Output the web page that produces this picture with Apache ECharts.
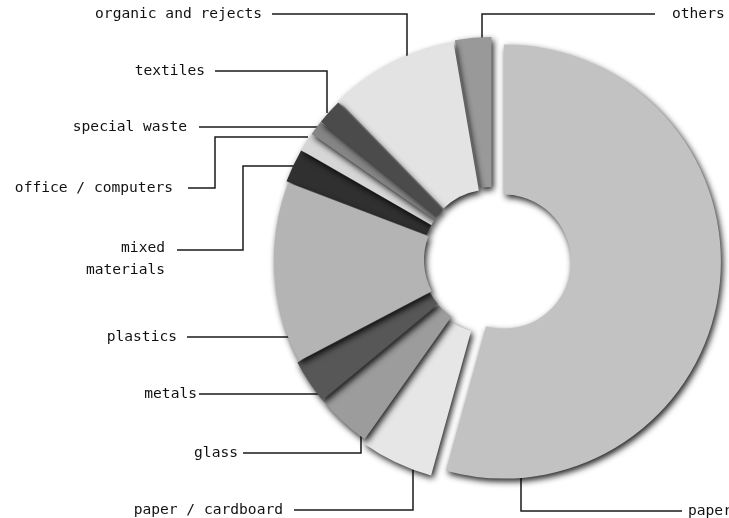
<!DOCTYPE html>
<html>
<head>
<meta charset="utf-8">
<script src="https://cdn.jsdelivr.net/npm/echarts@6/dist/echarts.min.js"></script>
<style>
html,body{margin:0;padding:0;background:#ffffff;}
#chart{width:729px;height:518px;}
</style>
</head>
<body>
<div id="chart"></div>
<script>
// ---- data (clockwise from 12 o'clock) ----
const categories = ['paper', 'paper / cardboard', 'glass', 'metals', 'plastics', 'mixed materials',
  'office / computers', 'special waste', 'textiles', 'organic and rejects', 'others'];
const shares = [54.3, 5.5, 4.2, 3.3, 13.5, 2.5, 1.4, 1.1, 1.9, 9.6, 2.7];

// ---- styles ----
const sliceColors = ['#c2c2c2', '#e6e6e6', '#9c9c9c', '#575757', '#b4b4b4', '#303030',
  '#d6d6d6', '#858585', '#4b4b4b', '#e3e3e3', '#999999'];
const explodeOffsets = [12, 7, 3, 3, 1, 3, 3, 3, 3, 4, 6];

// ---- label placement (layout, px) ----
const labelPlacement = {
  'organic and rejects': {x: 262, y: 14, align: 'right', line: [[272, 14], [407, 14], [407, 83]]},
  'textiles': {x: 205, y: 71, align: 'right', line: [[215, 71], [327, 71], [327, 113]]},
  'special waste': {x: 187, y: 127, align: 'right', line: [[199, 127], [318, 127]]},
  'office / computers': {x: 173, y: 188, align: 'right', line: [[188, 188], [215, 188], [215, 137], [308, 137]]},
  'mixed materials': {x: 165, y: 259, align: 'right', line: [[177, 250], [243, 250], [243, 166], [310, 166]]},
  'plastics': {x: 177, y: 337, align: 'right', line: [[187, 337], [302, 337]]},
  'metals': {x: 197, y: 394, align: 'right', line: [[199, 394], [325, 394], [325, 378]]},
  'glass': {x: 238, y: 453, align: 'right', line: [[243, 453], [361, 453], [361, 407]]},
  'paper / cardboard': {x: 283, y: 510, align: 'right', line: [[294, 510], [413, 510], [413, 437]]},
  'paper': {x: 688, y: 511, align: 'left', line: [[682, 511], [521, 511], [521, 452]]},
  'others': {x: 672, y: 14, align: 'left', line: [[655, 14], [482, 14], [482, 80]]}
};

const CENTER = [492, 260];
const RADIUS = [67, 217];
const FONT = '"DejaVu Sans Mono", "Liberation Mono", monospace';

const chart = echarts.init(document.getElementById('chart'), null, {renderer: 'canvas'});

function sliceSeries(offset) {
  return {
    type: 'pie',
    center: CENTER,
    radius: RADIUS,
    startAngle: 90,
    clockwise: true,
    silent: true,
    animation: false,
    avoidLabelOverlap: false,
    selectedMode: 'multiple',
    selectedOffset: offset,
    emphasis: {disabled: true},
    label: {show: false},
    labelLine: {show: false},
    data: categories.map((name, i) => {
      if (explodeOffsets[i] === offset) {
        const st = {
          color: sliceColors[i],
          shadowBlur: 6,
          shadowColor: 'rgba(0,0,0,0.88)',
          shadowOffsetX: 2,
          shadowOffsetY: 3
        };
        return {name: name, value: shares[i], selected: true, itemStyle: st, select: {itemStyle: st}};
      }
      return {name: name, value: shares[i], itemStyle: {color: 'rgba(0,0,0,0)'}};
    })
  };
}

const uniqueOffsets = [];
explodeOffsets.forEach(o => { if (uniqueOffsets.indexOf(o) < 0) uniqueOffsets.push(o); });
// draw the most-exploded group (paper) first
uniqueOffsets.sort((a, b) => b - a);

const series = uniqueOffsets.map(o => sliceSeries(o));

// label-only series on top
series.push({
  type: 'pie',
  center: CENTER,
  radius: RADIUS,
  startAngle: 90,
  clockwise: true,
  silent: true,
  animation: false,
  avoidLabelOverlap: false,
  emphasis: {disabled: true},
  itemStyle: {color: 'rgba(0,0,0,0)'},
  label: {
    show: true,
    position: 'outside',
    color: '#111111',
    fontFamily: FONT,
    fontSize: 14.6,
    lineHeight: 22,
    formatter: p => p.name === 'mixed materials' ? 'mixed\nmaterials' : p.name
  },
  labelLine: {show: true, lineStyle: {color: '#1a1a1a', width: 1.5}},
  labelLayout: function (params) {
    const L = labelPlacement[categories[params.dataIndex]];
    return {
      x: L.x,
      y: L.y,
      align: L.align,
      verticalAlign: 'middle',
      labelLinePoints: L.line
    };
  },
  data: categories.map((name, i) => ({name: name, value: shares[i]}))
});

chart.setOption({
  backgroundColor: '#ffffff',
  animation: false,
  series: series
});
</script>
</body>
</html>
